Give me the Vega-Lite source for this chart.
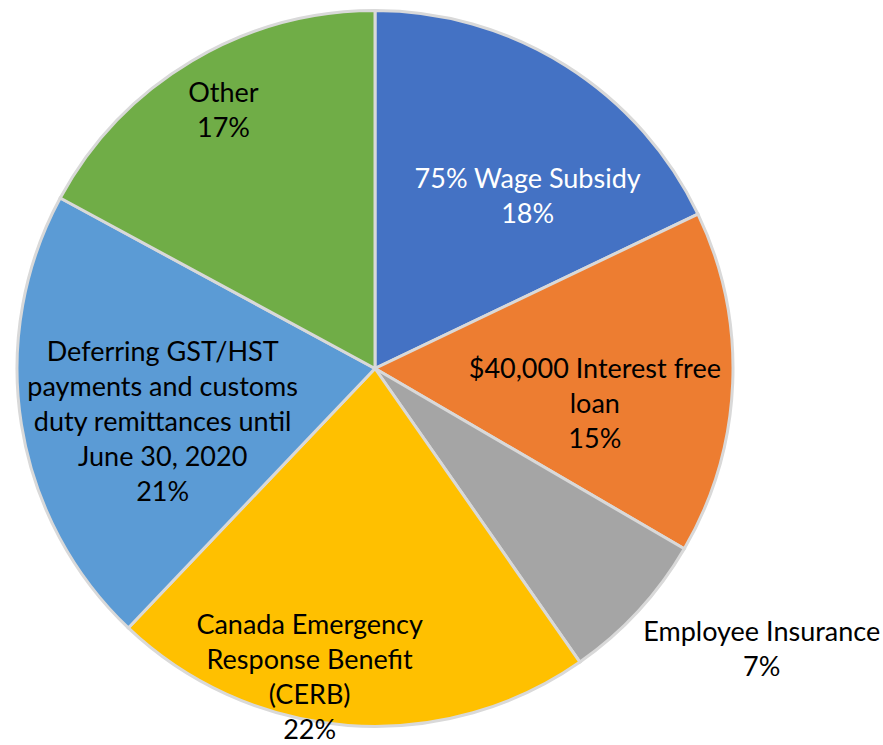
{
  "$schema": "https://vega.github.io/schema/vega-lite/v6.json",
  "width": 750,
  "height": 737,
  "padding": 0,
  "autosize": {"type": "pad"},
  "background": "white",
  "config": {"view": {"stroke": null}, "text": {"font": "Lato", "fontSize": 27, "color": "#000000", "lineHeight": 35}},
  "data": {"values": [
    {"order": 1, "category": "75% Wage Subsidy", "value": 17.9, "label": ["75% Wage Subsidy", "18%"]},
    {"order": 2, "category": "$40,000 Interest free loan", "value": 15.5, "label": ["$40,000 Interest free", "loan", "15%"]},
    {"order": 3, "category": "Employee Insurance", "value": 6.9, "label": ["Employee Insurance", "7%"]},
    {"order": 4, "category": "Canada Emergency Response Benefit (CERB)", "value": 21.8, "label": ["Canada Emergency", "Response Benefit", "(CERB)", "22%"]},
    {"order": 5, "category": "Deferring GST/HST payments and customs duty remittances until June 30, 2020", "value": 20.8, "label": ["Deferring GST/HST", "payments and customs", "duty remittances until", "June 30, 2020", "21%"]},
    {"order": 6, "category": "Other", "value": 17.1, "label": ["Other", "17%"]}
  ]},
  "encoding": {
    "theta": {"field": "value", "type": "quantitative", "stack": true},
    "order": {"field": "order", "type": "ordinal"}
  },
  "layer": [
    {
      "mark": {"type": "arc", "outerRadius": 358, "stroke": "#D9D9D9", "strokeWidth": 3},
      "encoding": {
        "color": {"field": "category", "type": "nominal", "legend": null,
          "scale": {"domain": ["75% Wage Subsidy", "$40,000 Interest free loan", "Employee Insurance", "Canada Emergency Response Benefit (CERB)", "Deferring GST/HST payments and customs duty remittances until June 30, 2020", "Other"],
                    "range": ["#4472C4", "#ED7D31", "#A5A5A5", "#FFC000", "#5B9BD5", "#70AD47"]}}
      }
    },
    {
      "mark": {"type": "text", "radius": 230, "dx": 30, "dy": 6, "color": "white"},
      "encoding": {"text": {"condition": {"test": "datum.order == 1", "field": "label"}, "value": ""},
                   "size": {"condition": {"test": "datum.order == 1", "value": 27}, "value": 0}}
    },
    {
      "mark": {"type": "text", "radius": 220, "dx": 0, "dy": -7},
      "encoding": {"text": {"condition": {"test": "datum.order == 2", "field": "label"}, "value": ""},
                   "size": {"condition": {"test": "datum.order == 2", "value": 27}, "value": 0}}
    },
    {
      "mark": {"type": "text", "radius": 360, "dx": 122, "dy": 21},
      "encoding": {"text": {"condition": {"test": "datum.order == 3", "field": "label"}, "value": ""},
                   "size": {"condition": {"test": "datum.order == 3", "value": 27}, "value": 0}}
    },
    {
      "mark": {"type": "text", "radius": 310, "dx": -42, "dy": -52},
      "encoding": {"text": {"condition": {"test": "datum.order == 4", "field": "label"}, "value": ""},
                   "size": {"condition": {"test": "datum.order == 4", "value": 27}, "value": 0}}
    },
    {
      "mark": {"type": "text", "radius": 215, "dx": 0, "dy": -49},
      "encoding": {"text": {"condition": {"test": "datum.order == 5", "field": "label"}, "value": ""},
                   "size": {"condition": {"test": "datum.order == 5", "value": 27}, "value": 0}}
    },
    {
      "mark": {"type": "text", "radius": 300, "dx": 2, "dy": -17},
      "encoding": {"text": {"condition": {"test": "datum.order == 6", "field": "label"}, "value": ""},
                   "size": {"condition": {"test": "datum.order == 6", "value": 27}, "value": 0}}
    }
  ]
}
